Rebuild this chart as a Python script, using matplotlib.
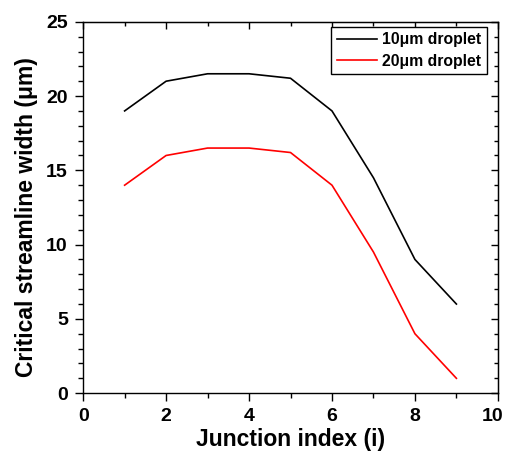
import matplotlib.pyplot as plt
from matplotlib.ticker import MultipleLocator, FuncFormatter

plt.rcParams['font.family'] = ['Liberation Sans', 'DejaVu Sans']
plt.rcParams['font.weight'] = 'bold'

junction = [1, 2, 3, 4, 5, 6, 7, 8, 9]
width_10um = [19, 21, 21.5, 21.5, 21.2, 19, 14.5, 9, 6]
width_20um = [14, 16, 16.5, 16.5, 16.2, 14, 9.5, 4, 1]
x_max = 10

fig = plt.figure(figsize=(5.07, 4.54), dpi=100)
ax = fig.add_axes([0.164, 0.134, 0.818, 0.818])

ax.plot(junction, width_10um, color='black', lw=1.2, label='10\u03bcm droplet')
ax.plot(junction, width_20um, color='red', lw=1.2, label='20\u03bcm droplet')

ax.set_xlim(0, x_max)
ax.set_ylim(0, 25)
ax.xaxis.set_major_locator(MultipleLocator(2))
ax.xaxis.set_minor_locator(MultipleLocator(1))
ax.yaxis.set_major_locator(MultipleLocator(5))
ax.yaxis.set_minor_locator(MultipleLocator(1))

ax.tick_params(which='both', direction='out', top=False, right=False, width=1)
ax.tick_params(which='major', length=6, labelsize=14, pad=5)
ax.tick_params(which='minor', length=3.5)

# last x label is drawn separately, nudged left so it stays inside the figure
ax.xaxis.set_major_formatter(FuncFormatter(lambda v, p: '' if v >= x_max else f'{v:g}'))
ax.annotate(f'{x_max}', xy=(x_max, 0), xycoords=('data', 'axes fraction'),
            xytext=(-3.5, -11), textcoords='offset points',
            ha='center', va='top', fontsize=14, fontweight='bold')

# inward ticks on top and right, like the original
ax2 = ax.secondary_xaxis('top')
ax2.xaxis.set_major_locator(MultipleLocator(2))
ax2.xaxis.set_minor_locator(MultipleLocator(1))
ax2.tick_params(which='both', direction='in', labeltop=False, width=1)
ax2.tick_params(which='major', length=5)
ax2.tick_params(which='minor', length=3)
ax3 = ax.secondary_yaxis('right')
ax3.yaxis.set_major_locator(MultipleLocator(5))
ax3.yaxis.set_minor_locator(MultipleLocator(1))
ax3.tick_params(which='both', direction='in', labelright=False, width=1)
ax3.tick_params(which='major', length=5)
ax3.tick_params(which='minor', length=3)

for s in ax.spines.values():
    s.set_linewidth(1)

ax.set_xlabel('Junction index (i)', fontsize=16.5, fontweight='bold', labelpad=2)
ax.set_ylabel('Critical streamline width (\u03bcm)', fontsize=16.5, fontweight='bold')
ax.yaxis.set_label_coords(-0.11, 0.473)

leg = ax.legend(loc='upper right', bbox_to_anchor=(0.9735, 0.9866), borderaxespad=0,
                fontsize=11.3, fancybox=False, edgecolor='black', framealpha=1,
                handlelength=2.6, handletextpad=0.3, borderpad=0.35, labelspacing=0.4)
leg.get_frame().set_linewidth(1)

fig.savefig('out.png', dpi=100)
